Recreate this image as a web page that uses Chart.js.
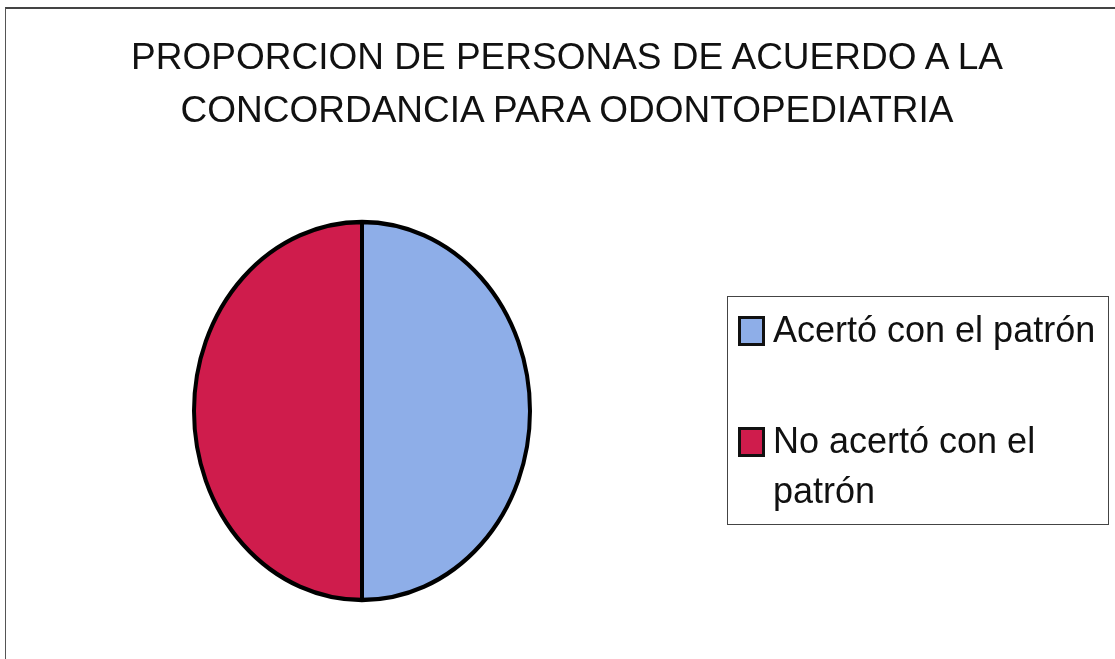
<!DOCTYPE html>
<html>
<head>
<meta charset="utf-8">
<script src="https://cdn.jsdelivr.net/npm/chart.js@4"></script>
<style>
  html, body { margin: 0; padding: 0; background: #fff; }
  #page { position: relative; width: 1115px; height: 659px; overflow: hidden; font-family: "Liberation Sans", Arial, sans-serif; color: #111; }
  #frame { position: absolute; left: 5px; top: 7px; width: 1120px; height: 700px; border-top: 2px solid #444; border-left: 1px solid #555; }
  #chartBox { position: absolute; left: 0; top: 0; width: 1115px; height: 659px; }
  #title { position: absolute; left: 67px; top: 30px; width: 1000px; text-align: center; font-size: 37px; line-height: 53px; }
  #legend { position: absolute; left: 727px; top: 296px; width: 382px; height: 229px; box-sizing: border-box; border: 1px solid #444; }
  .item { position: absolute; left: 0; }
  .swatch { position: absolute; left: 10px; width: 27px; height: 30px; box-sizing: border-box; border: 3px solid #111; }
  .text { position: absolute; left: 45px; width: 334px; font-size: 36px; line-height: 50px; }
</style>
</head>
<body>
<div id="page">
  <div id="frame"></div>
  <div id="chartBox"><canvas id="pieChart"></canvas></div>
  <div id="title">PROPORCION DE PERSONAS DE ACUERDO A LA<br>CONCORDANCIA PARA ODONTOPEDIATRIA</div>
  <div id="legend"></div>
</div>
<script>
const LABELS = ['Acertó con el patrón', 'No acertó con el patrón'];
const VALUES = [50, 50];
const COLORS = ['#8EAEE8', '#CF1C4C'];

// custom legend, like the boxed legend of the original
const legendEl = document.getElementById('legend');
const itemTops = [8, 119]; // line top of each item inside the box
LABELS.forEach(function (label, i) {
    const item = document.createElement('div');
    item.className = 'item';
    item.style.top = itemTops[i] + 'px';
    const sw = document.createElement('div');
    sw.className = 'swatch';
    sw.style.top = '11px';
    sw.style.background = COLORS[i];
    const tx = document.createElement('div');
    tx.className = 'text';
    tx.textContent = label;
    item.appendChild(sw);
    item.appendChild(tx);
    legendEl.appendChild(item);
});

// the pie in the picture is a bit taller than wide
const stretchPie = {
    id: 'stretchPie',
    beforeDatasetsDraw(chart) {
        const arc = chart.getDatasetMeta(0).data[0];
        const ctx = chart.ctx;
        ctx.save();
        ctx.translate(arc.x, arc.y);
        ctx.scale(1, 1.125);
        ctx.translate(-arc.x, -arc.y);
    },
    afterDatasetsDraw(chart) {
        chart.ctx.restore();
    }
};

new Chart(document.getElementById('pieChart'), {
    type: 'pie',
    data: {
        labels: LABELS,
        datasets: [{
            data: VALUES,
            backgroundColor: COLORS,
            borderColor: '#000',
            borderWidth: 4
        }]
    },
    options: {
        responsive: true,
        maintainAspectRatio: false,
        animation: false,
        layout: {
            padding: { left: 192, right: 583, top: 241, bottom: 78 }
        },
        plugins: {
            legend: { display: false },
            title: { display: false },
            tooltip: { enabled: false }
        }
    },
    plugins: [stretchPie]
});
</script>
</body>
</html>
